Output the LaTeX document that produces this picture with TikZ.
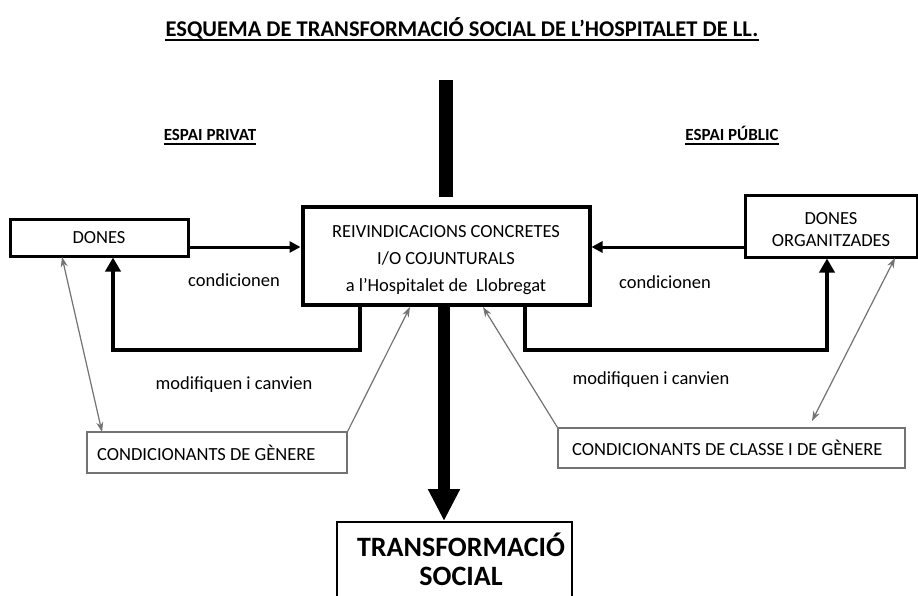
\documentclass[tikz,border=0pt]{standalone}
\usepackage{fontspec}
\setmainfont{Carlito}
\usetikzlibrary{arrows.meta,calc}
\begin{document}
\begin{tikzpicture}[x=1pt,y=-1pt,
  txt/.style={font=\fontsize{18.5}{27}\selectfont, inner sep=0pt},
  thickbox/.style={draw, line width=3pt, inner sep=0pt, align=center, font=\fontsize{18.5}{22}\selectfont},
  graybox/.style={draw=black!55, line width=1.2pt, inner sep=0pt, font=\fontsize{18.5}{22}\selectfont},
  fwd/.style={line width=3pt, -{Triangle[length=11pt,width=11pt]}},
  back/.style={line width=4.5pt, -{Triangle[length=14pt,width=15pt]}},
  grayarr/.style={draw=black!55, line width=1.2pt, -{Stealth[length=10pt,width=7pt]}},
  graydbl/.style={draw=black!55, line width=1.2pt, {Stealth[length=10pt,width=7pt]}-{Stealth[length=10pt,width=7pt]}},
  heading/.style={font=\fontsize{17}{20}\selectfont\bfseries, inner sep=0pt, anchor=base}
]
\useasboundingbox (0,0) rectangle (918,596);
\fill[white] (0,0) rectangle (918,596);

% title
\node[font=\fontsize{22.5}{26}\selectfont\bfseries, inner sep=0pt, anchor=base] (title) at (462,37)
  {ESQUEMA DE TRANSFORMACIÓ SOCIAL DE L’HOSPITALET DE LL.};
\draw[line width=1.8pt] ($(title.base west)+(0,3)$) -- ($(title.base east)+(0,3)$);

% headings
\node[heading] (privat) at (210,141) {ESPAI PRIVAT};
\draw[line width=1.6pt] ($(privat.base west)+(0,3)$) -- ($(privat.base east)+(0,3)$);
\node[heading] (public) at (732,141) {ESPAI PÚBLIC};
\draw[line width=1.6pt] ($(public.base west)+(0,3)$) -- ($(public.base east)+(0,3)$);

% top bar
\coordinate (bartop) at (446,80);
\coordinate (barbot) at (446,197);
\draw[line width=14pt] (bartop) -- (barbot);

% boxes
\node[thickbox, minimum width=178pt, minimum height=36pt] (dones) at (99,238) {DONES};
\node[thickbox, line width=4pt, minimum width=287pt, minimum height=98pt] (centre) at (446,256) {};
\node[txt, align=center] (centretxt) at (446,260)
  {REIVINDICACIONS CONCRETES\\I/O COJUNTURALS\\a l’Hospitalet de\ \ Llobregat};
\node[thickbox, minimum width=172pt, minimum height=61pt] (org) at (831,226.5) {};
\node[inner sep=0pt, align=center, font=\fontsize{18.5}{22}\selectfont] (orgtxt) at (831,229.5)
  {DONES\\ORGANITZADES};
\node[draw, line width=2pt, minimum width=235pt, minimum height=88pt, inner sep=0pt] (transf) at (454.5,566) {};
\node[inner sep=0pt, align=center, font=\fontsize{28}{29}\selectfont\bfseries] (transftxt) at (461,559)
  {TRANSFORMACIÓ\\SOCIAL};
\node[graybox, minimum width=260pt, minimum height=41pt] (gen) at (217,452.5) {};
\node[inner sep=0pt, anchor=west, font=\fontsize{18.5}{22}\selectfont] (gentxt) at (97,452.5)
  {CONDICIONANTS DE GÈNERE};
\node[graybox, minimum width=347pt, minimum height=40pt] (cls) at (731.5,448) {};
\node[inner sep=0pt, anchor=west, font=\fontsize{18.5}{22}\selectfont] (clstxt) at (572,448)
  {CONDICIONANTS DE CLASSE I DE GÈNERE};

% labels
\node[txt] (cond1) at (234,280) {condicionen};
\node[txt] (cond2) at (665,282) {condicionen};
\node[txt] (mod1) at (234,385) {modifiquen i canvien};
\node[txt] (mod2) at (651,380) {modifiquen i canvien};

% horizontal arrows
\draw[fwd] (dones.east |- 0,247) -- (centre.west |- 0,247);
\draw[fwd] (org.west |- 0,247) -- (centre.east |- 0,247);

% feedback arrows
\draw[back] (centre.south -| 360,0) -- (360,350) -- (113,350) -- (dones.south -| 113,0);
\draw[back] (centre.south -| 525,0) -- (525,350) -- (827,350) -- (org.south -| 827,0);

% main down arrow
\draw[line width=12pt, -{Triangle[length=32pt,width=30pt]}] (centre.south -| 444,0) -- (transf.north -| 444,0);

% gray arrows
\coordinate (g1a) at (62,257);
\coordinate (g1b) at (102,432);
\draw[graydbl] (g1a) -- (g1b);
\coordinate (g2a) at (gen.north east);
\draw[grayarr] (g2a) -- (centre.south -| 410,0);
\coordinate (g3a) at (cls.north west);
\draw[grayarr] (g3a) -- (centre.south -| 483,0);
\coordinate (g4a) at (895,258);
\coordinate (g4b) at (812,421);
\draw[graydbl] (g4a) -- (g4b);
\end{tikzpicture}
\end{document}
